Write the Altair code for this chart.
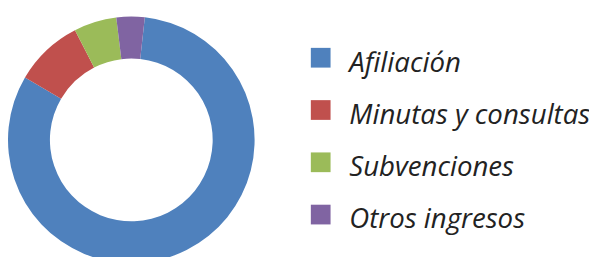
import math
import altair as alt
import pandas as pd

categories = ["Afiliación", "Minutas y consultas", "Subvenciones", "Otros ingresos"]
values = [81.7, 9.0, 5.6, 3.7]
colors = ["#4F81BD", "#C0504D", "#9BBB59", "#8064A2"]

df = pd.DataFrame({"categoria": categories, "valor": values, "orden": list(range(len(categories)))})

start = 0.11
color_scale = alt.Scale(domain=categories, range=colors)

donut = alt.Chart(df).mark_arc(stroke=None).encode(
    theta=alt.Theta("valor:Q", stack=True, scale=alt.Scale(range=[start, start + 2 * math.pi])),
    order=alt.Order("orden:Q"),
    color=alt.Color("categoria:N", scale=color_scale, legend=None),
    x=alt.value(125),
    y=alt.value(132),
    radius=alt.value(125),
    radius2=alt.value(82.5),
)

ypos = alt.Y("categoria:N", sort=categories, axis=None,
             scale=alt.Scale(type="point", domain=categories, range=[48.7, 207.7], padding=0))

squares = alt.Chart(df).mark_square(size=400, opacity=1, strokeWidth=0).encode(
    x=alt.value(317),
    y=ypos,
    color=alt.Color("categoria:N", scale=color_scale, legend=None),
)

labels = alt.Chart(df).mark_text(
    align="left", baseline="alphabetic", dy=14,
    font="Open Sans", fontStyle="italic", fontSize=28, color="#222222",
).encode(
    x=alt.value(346),
    y=ypos,
    text="categoria:N",
)

chart = alt.layer(donut, squares, labels).properties(
    width=589,
    height=249,
    autosize=alt.AutoSizeParams(type="none"),
    padding=0,
).configure_view(stroke=None)

chart.save("out.html", embed_options={"renderer": "svg", "actions": False})
